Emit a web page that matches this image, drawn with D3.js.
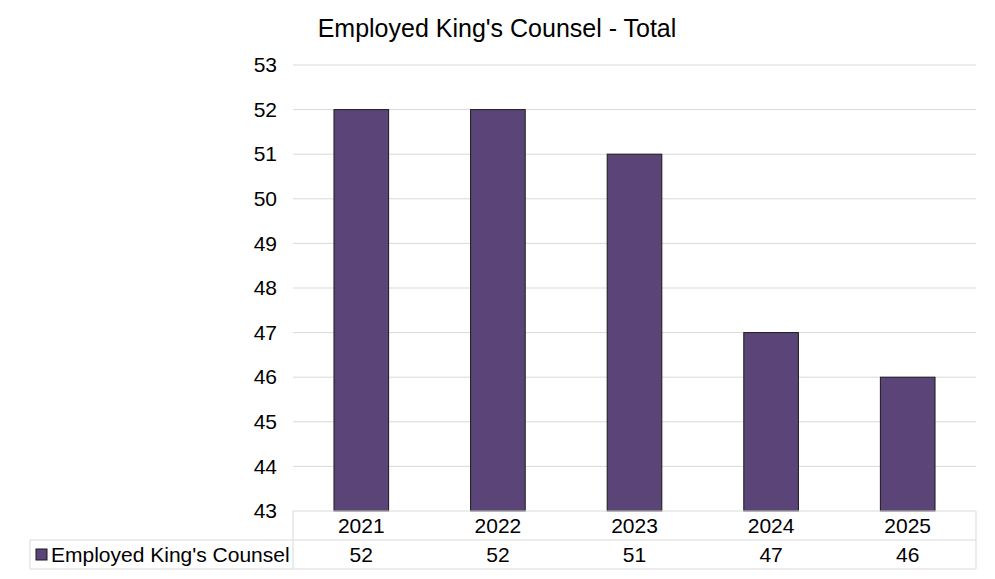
<!DOCTYPE html>
<html>
<head>
<meta charset="utf-8">
<script src="https://cdn.jsdelivr.net/npm/d3@7"></script>
<style>
  body { margin: 0; background: #fff; }
  text { font-family: "Liberation Sans", Arial, sans-serif; fill: #000; }
</style>
</head>
<body>
<div id="chart"></div>
<script>
// Chart data
const years = ["2021", "2022", "2023", "2024", "2025"];
const counsel = [52, 52, 51, 47, 46];
const yTicks = [43, 44, 45, 46, 47, 48, 49, 50, 51, 52, 53];
const seriesName = "Employed King's Counsel";
const chartTitle = "Employed King's Counsel - Total";

const W = 995, H = 579;
const plot = {left: 293, right: 976, top: 65, bottom: 511};
const rowH = 29, legendLeft = 30;
const barColor = "#5b4578", gridColor = "#d9d9d9";
const fontSize = "21px";

const svg = d3.select("#chart")
    .append("svg")
    .attr("width", W)
    .attr("height", H);

// Scales
const x = d3.scaleBand()
    .domain(years)
    .range([plot.left, plot.right])
    .padding(0);

const y = d3.scaleLinear()
    .domain([d3.min(yTicks), d3.max(yTicks)])
    .range([plot.bottom, plot.top]);

// Title
svg.append("text")
    .attr("x", 497)
    .attr("y", 37)
    .attr("text-anchor", "middle")
    .style("font-size", "25px")
    .text(chartTitle);

// Gridlines
svg.append("g")
    .selectAll("line")
    .data(yTicks.slice(1))
    .join("line")
    .attr("x1", plot.left)
    .attr("x2", plot.right)
    .attr("y1", d => y(d))
    .attr("y2", d => y(d))
    .attr("stroke", gridColor)
    .attr("stroke-width", 1);

// Y axis labels
const yAxis = svg.append("g")
    .attr("transform", `translate(${plot.left},0)`)
    .call(d3.axisLeft(y).tickValues(yTicks).tickSize(0).tickPadding(16).tickFormat(d3.format("d")));
yAxis.select(".domain").remove();
yAxis.selectAll("text")
    .style("font-size", fontSize)
    .style("font-family", "'Liberation Sans', Arial, sans-serif")
    .attr("fill", "#000");

// Bars
const barW = x.bandwidth() * 0.4;
svg.append("g")
    .selectAll("rect")
    .data(years.map((yr, i) => ({year: yr, value: counsel[i]})))
    .join("rect")
    .attr("x", d => x(d.year) + (x.bandwidth() - barW) / 2)
    .attr("y", d => y(d.value))
    .attr("width", barW)
    .attr("height", d => y(y.domain()[0]) - y(d.value))
    .attr("fill", barColor)
    .attr("stroke", "#1a1a1a")
    .attr("stroke-width", 1);

// Data table
const table = svg.append("g")
    .attr("stroke", gridColor)
    .attr("stroke-width", 1)
    .attr("fill", "none");
table.append("line").attr("x1", plot.left).attr("x2", plot.right).attr("y1", plot.bottom).attr("y2", plot.bottom);
table.append("line").attr("x1", legendLeft).attr("x2", plot.right).attr("y1", plot.bottom + rowH).attr("y2", plot.bottom + rowH);
table.append("line").attr("x1", legendLeft).attr("x2", plot.right).attr("y1", plot.bottom + 2 * rowH).attr("y2", plot.bottom + 2 * rowH);
table.append("line").attr("x1", legendLeft).attr("x2", legendLeft).attr("y1", plot.bottom + rowH).attr("y2", plot.bottom + 2 * rowH);
table.append("line").attr("x1", plot.left).attr("x2", plot.left).attr("y1", plot.bottom).attr("y2", plot.bottom + 2 * rowH);
table.append("line").attr("x1", plot.right).attr("x2", plot.right).attr("y1", plot.bottom).attr("y2", plot.bottom + 2 * rowH);

// Year row
svg.append("g")
    .selectAll("text")
    .data(years)
    .join("text")
    .attr("x", d => x(d) + x.bandwidth() / 2)
    .attr("y", plot.bottom + 22)
    .attr("text-anchor", "middle")
    .style("font-size", fontSize)
    .text(d => d);

// Value row
svg.append("g")
    .selectAll("text")
    .data(counsel)
    .join("text")
    .attr("x", (d, i) => x(years[i]) + x.bandwidth() / 2)
    .attr("y", plot.bottom + rowH + 22)
    .attr("text-anchor", "middle")
    .style("font-size", fontSize)
    .text(d => d);

// Legend key
svg.append("rect")
    .attr("x", 36)
    .attr("y", plot.bottom + rowH + 9)
    .attr("width", 11)
    .attr("height", 11)
    .attr("fill", barColor)
    .attr("stroke", "#1a1a1a")
    .attr("stroke-width", 1);
svg.append("text")
    .attr("x", 51)
    .attr("y", plot.bottom + rowH + 22)
    .style("font-size", fontSize)
    .text(seriesName);
</script>
</body>
</html>
